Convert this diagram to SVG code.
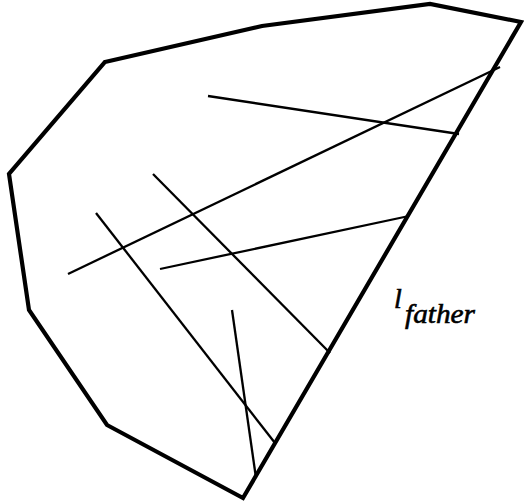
<svg xmlns="http://www.w3.org/2000/svg" width="524" height="503" viewBox="0 0 524 503">
<style>
.outline{fill:none;stroke:#000;stroke-width:4.2;stroke-linejoin:miter}
.seg{fill:none;stroke:#000;stroke-width:2.3;stroke-linecap:butt}
.lbl{font-family:"Liberation Serif",serif;font-style:italic;fill:#000;stroke:#000;stroke-width:0.6}
</style>
<rect width="524" height="503" fill="#fff"/>
<g id="region">
<polygon class="outline" points="105,62 262,26 430,4 521,22 243,498 107,425 29,310 9,174"/>
</g>
<g id="segments">
<line class="seg" x1="68" y1="274" x2="500" y2="67"/>
<line class="seg" x1="208" y1="96" x2="459" y2="134"/>
<line class="seg" x1="153" y1="174" x2="330" y2="353"/>
<line class="seg" x1="96" y1="213" x2="275" y2="443"/>
<line class="seg" x1="160" y1="269" x2="409" y2="216"/>
<line class="seg" x1="232" y1="310" x2="256" y2="478"/>
</g>
<g id="label">
<text class="lbl" x="394" y="308" font-size="28">l</text>
<text class="lbl" x="405" y="323" font-size="28" textLength="70" lengthAdjust="spacingAndGlyphs">father</text>
</g>
</svg>
